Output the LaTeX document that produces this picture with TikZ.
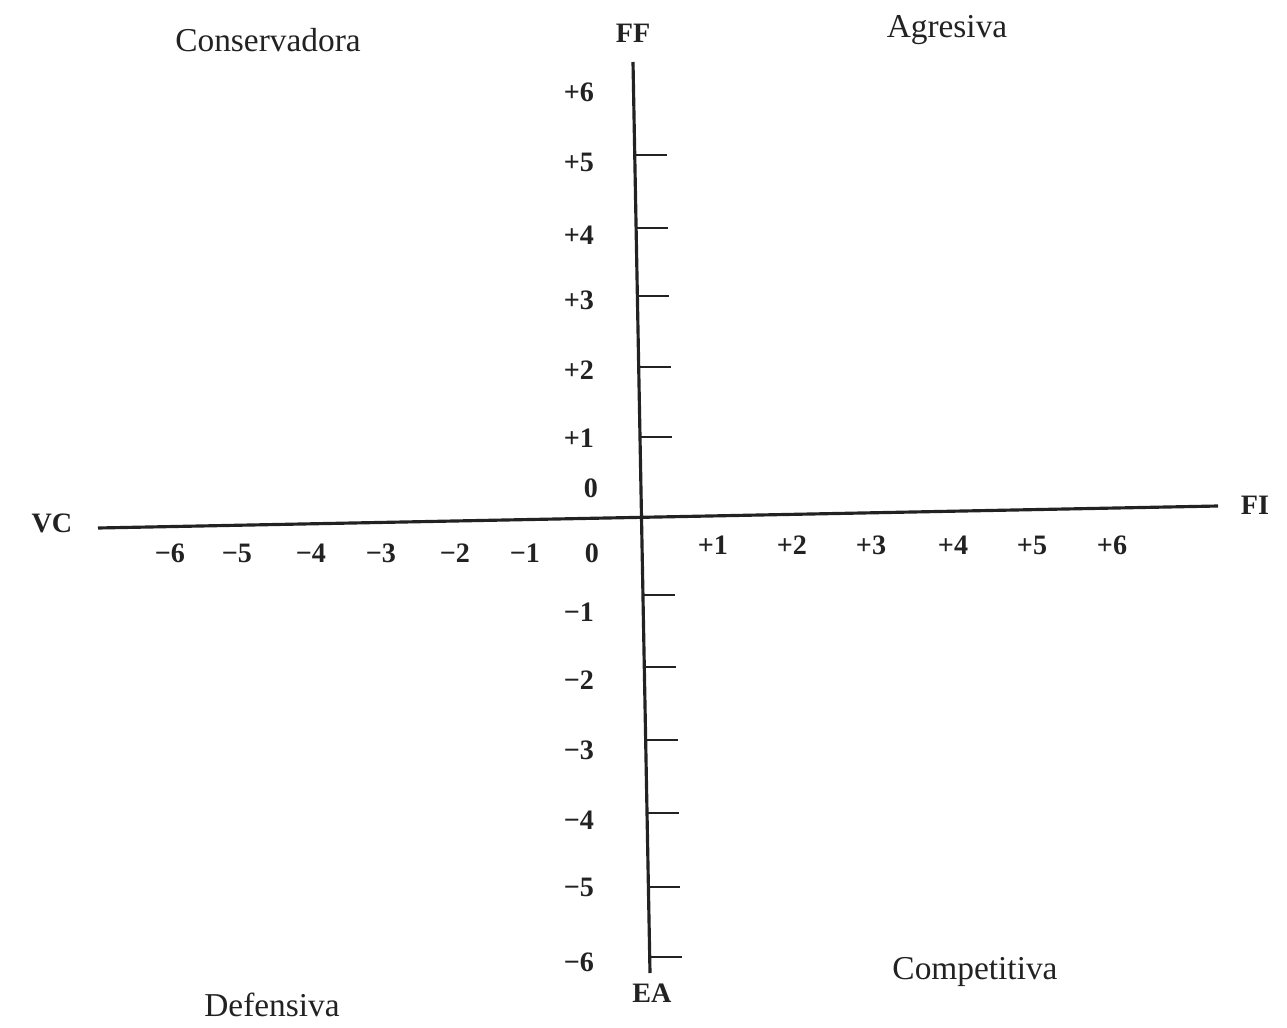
\documentclass[tikz,border=0pt]{standalone}
\usepackage{fontspec}
\setmainfont{Liberation Serif}
\usetikzlibrary{positioning, calc}
\definecolor{inkDark}{HTML}{222222}

\begin{document}
\begin{tikzpicture}[x=0.02cm, y=-0.02cm,
		axisline/.style={draw=inkDark, line width=1.8pt},
		tickline/.style={draw=inkDark, line width=1.5pt},
		quadlabel/.style={text=inkDark, font=\fontsize{19}{22}\selectfont},
		axislabel/.style={text=inkDark, font=\fontsize{16}{18}\selectfont\bfseries},
		numlabel/.style={text=inkDark, font=\fontsize{16}{18}\selectfont\bfseries}]
	% Page frame with the scan's proportions
	\useasboundingbox (0,0) rectangle (1287,1027);
	
	% Ends of the two axes
	\coordinate (ffend) at (633,62);
	\coordinate (eaend) at (650,973);
	\coordinate (vcend) at (98,528);
	\coordinate (fiend) at (1218,506);
	
	% Axes
	\draw[axisline] (ffend) -- (eaend);
	\draw[axisline] (vcend) -- (fiend);
	
	% Ticks on the right of the vertical axis
	\foreach \ty in {155,228,296,367,437,595,667,740,813,887,957}{
		\draw[tickline] ($(ffend)!{(\ty-62)/911}!(eaend)$) -- ++(32,0);
	}
	
	% Axis names
	\node[axislabel] (ff) at (633,33) {FF};
	\node[axislabel] (ea) at (652,993) {EA};
	\node[axislabel] (vc) at (52,523) {VC};
	\node[axislabel] (fi) at (1255,505) {FI};
	
	% Strategy quadrants
	\node[quadlabel] (conservadora) at (268,40) {Conservadora};
	\node[quadlabel] (agresiva) at (947,30) {Agresiva};
	\node[quadlabel] (defensiva) at (272,1005) {Defensiva};
	\node[quadlabel] (competitiva) at (975,972) {Competitiva};
	
	% Scale of the vertical axis
	\foreach \lab/\ty [count=\i] in {+6/92,+5/162,+4/235,+3/300,+2/370,+1/438,
			−1/612,−2/680,−3/750,−4/820,−5/887,−6/962}{
		\node[numlabel] (ylab\i) at (579,\ty) {\lab};
	}
	\node[numlabel] (yzero) at (591,488) {0};
	
	% Scale of the horizontal axis
	\foreach \lab/\tx [count=\i] in {−6/170,−5/237,−4/311,−3/381,−2/455,−1/525,0/592}{
		\node[numlabel] (xneg\i) at (\tx,553) {\lab};
	}
	\foreach \lab/\tx [count=\i] in {+1/713,+2/792,+3/871,+4/953,+5/1032,+6/1112}{
		\node[numlabel] (xpos\i) at (\tx,545) {\lab};
	}
\end{tikzpicture}
\end{document}
